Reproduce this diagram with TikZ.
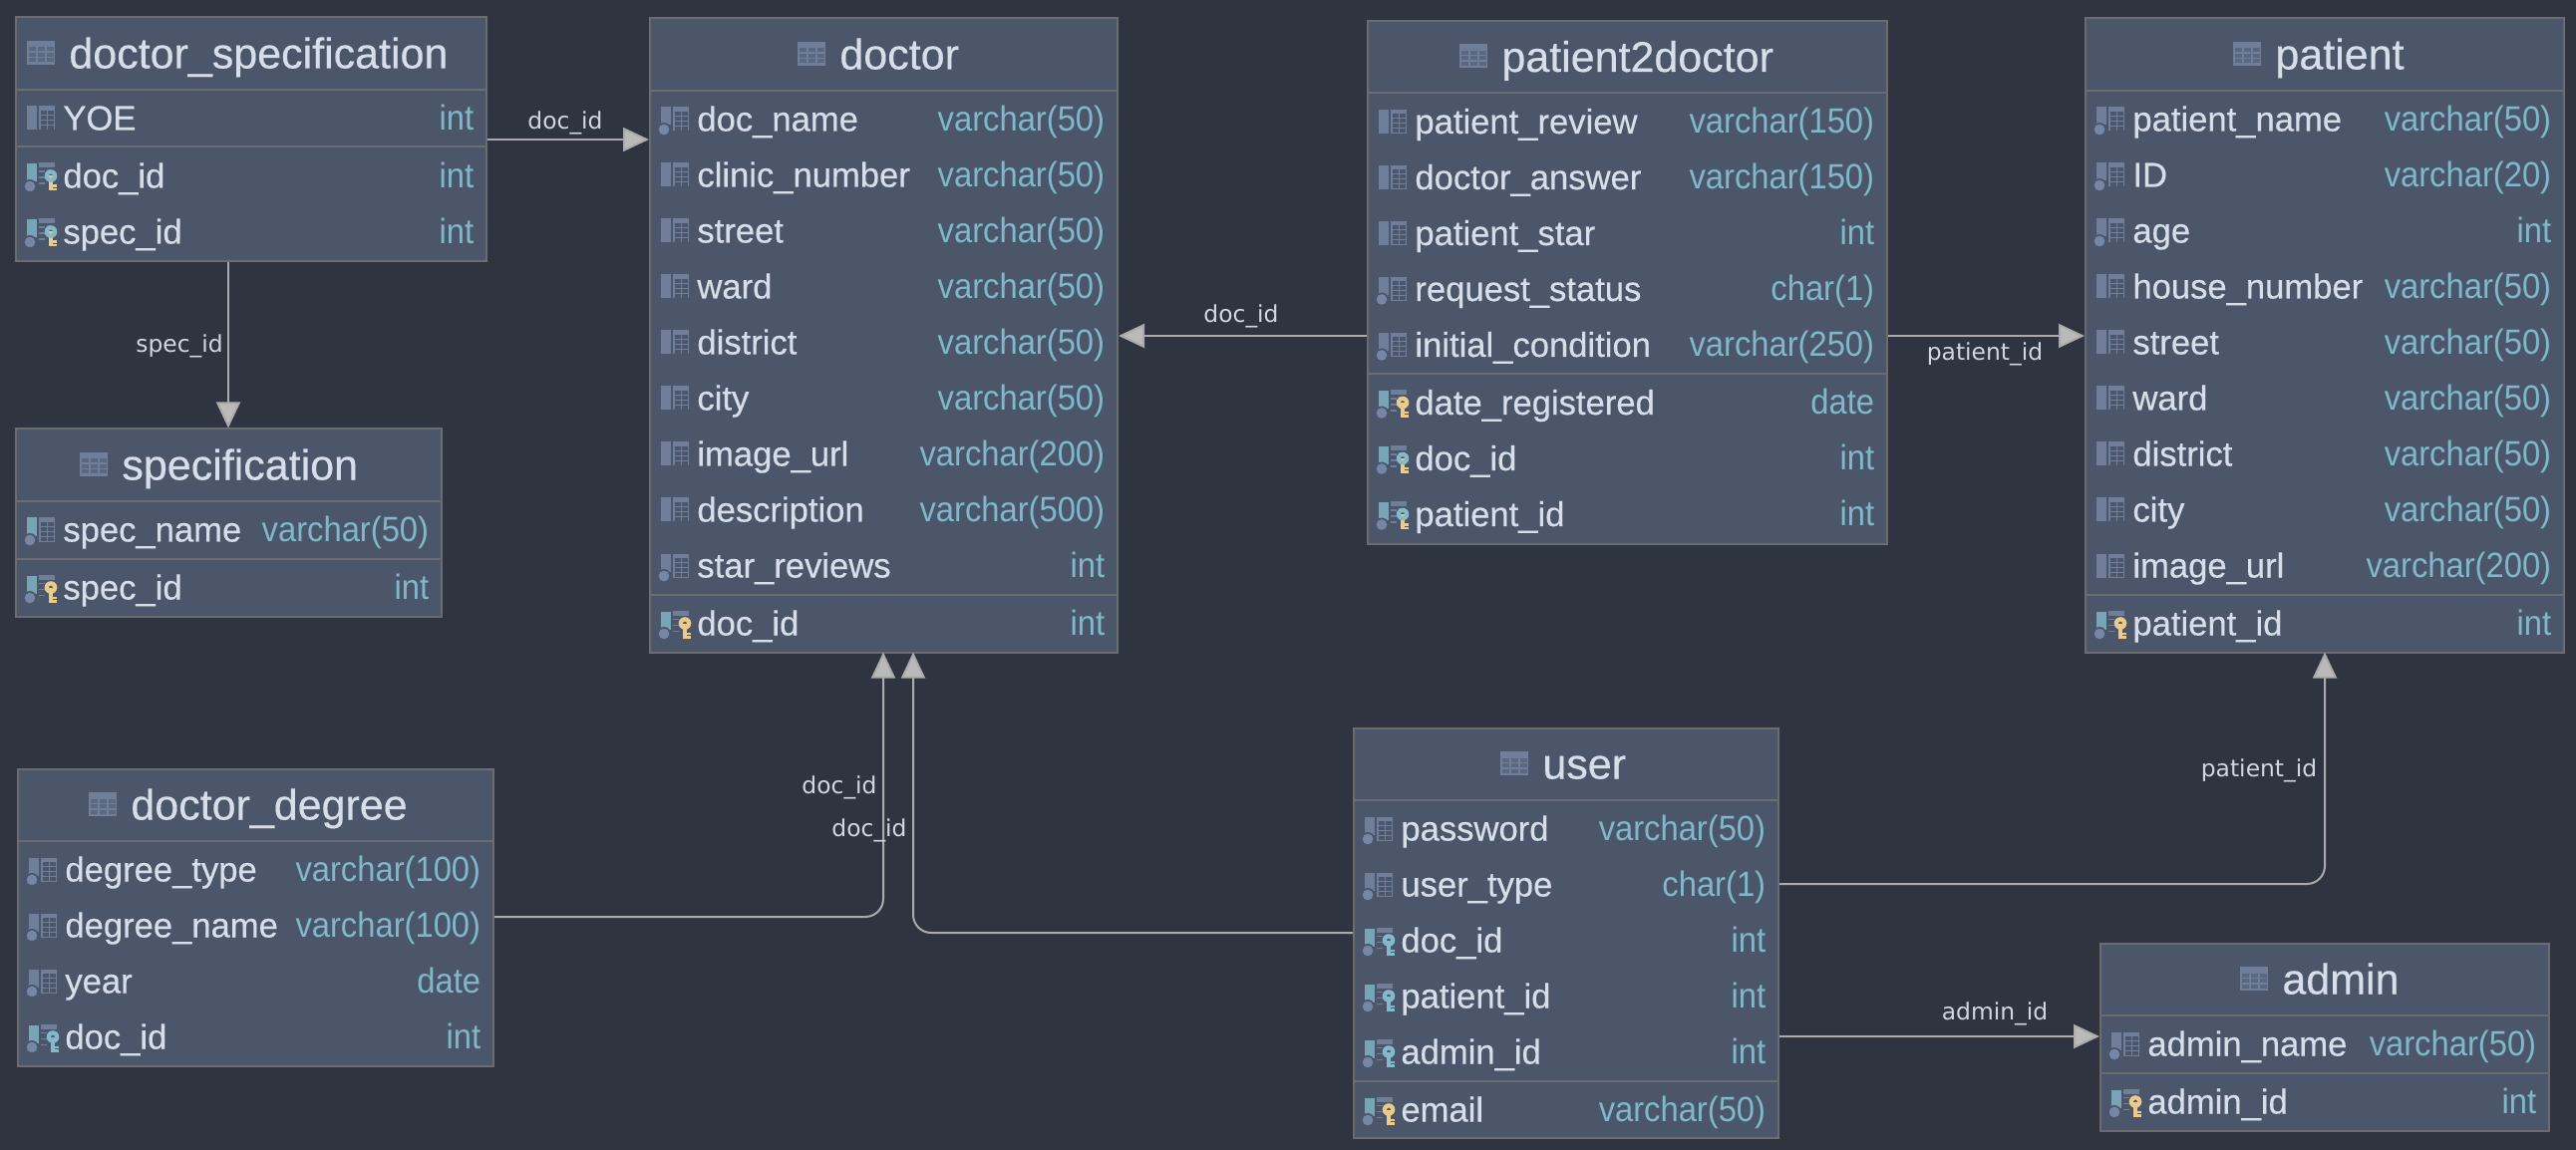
\documentclass[tikz,border=0pt]{standalone}
\usepackage{fontspec}
\setmainfont{Liberation Sans}[FakeBold=0.35]
\newfontfamily\typefont{Liberation Sans}[FakeStretch=0.93]
\newfontfamily\edgefont{DejaVu Sans}
\usetikzlibrary{arrows.meta}
\definecolor{pagedark}{HTML}{2E3440}
\definecolor{tablefill}{HTML}{4C566A}
\definecolor{tableline}{HTML}{6A6C70}
\definecolor{nametext}{HTML}{D8DEE9}
\definecolor{typetext}{HTML}{7FB8C8}
\definecolor{iconfill}{HTML}{6F7E99}
\definecolor{icondot}{HTML}{7687A6}
\definecolor{iconteal}{HTML}{78A5B5}
\definecolor{keygold}{HTML}{EBCB8B}
\definecolor{keyteal}{HTML}{82BACB}
\definecolor{linkgrey}{HTML}{ABABAB}
\definecolor{tipgrey}{HTML}{BABABA}
\definecolor{edgetext}{HTML}{D2D6DE}
\tikzset{
    tbl/.style={draw=tableline,fill=tablefill,line width=1pt,inner sep=0pt,anchor=north west},
    tbldiv/.style={draw=tableline,line width=1pt},
    titletext/.style={anchor=base west,inner sep=0pt,text=nametext,font=\fontsize{21.5}{24}\selectfont},
    nametxt/.style={anchor=base west,inner sep=0pt,text=nametext,font=\fontsize{17.3}{20}\selectfont},
    typetxt/.style={anchor=base east,inner sep=0pt,text=typetext,font=\typefont\fontsize{17.6}{20}\selectfont},
    fklink/.style={draw=linkgrey,line width=1pt,-{Triangle[length=13pt,width=12pt,fill=tipgrey]}},
    fklabel/.style={inner sep=0pt,text=edgetext,font=\edgefont\fontsize{11.7}{14}\selectfont}
}
% icon parts, origin at the left end of the row centre
\newcommand{\colgrid}{
    \fill[iconfill] (12,-12) rectangle (28,12);
    \foreach \cx/\cw in {13.5/6,20.5/6}{
        \foreach \cy in {-7.5,-2.5,2.5,7.5}{
            \fill[tablefill] (\cx,\cy) rectangle ++(\cw,3.6);
        }
    }
}
\newcommand{\keygrid}{
    \fill[iconfill] (12,-13) rectangle (28,-8);
    \foreach \cy in {-5,1,7}{
        \fill[iconfill] (12,\cy) rectangle (18,{\cy+1.6});
    }
    \fill[iconfill] (20,-6) rectangle (24,-4);
}
\newcommand{\nullbar}[1]{
    \fill[#1] (0,-12) rectangle (10,6);
    \fill[tablefill] (3,10.5) circle (7);
    \fill[icondot] (3,10.5) circle (5.3);
}
\newcommand{\dbkey}[2]{
    \fill[#2] (22.3,0) rectangle (26.3,15);
    \fill[#2] (26.3,9) rectangle (30,11.5);
    \fill[#2] (26.3,12.5) rectangle (30,15);
    \fill[#1,even odd rule] (24,0) circle (6.3) (24,0) circle (2);
}
\tikzset{
    pics/iconc/.style={code={\fill[iconfill] (0,-12) rectangle (10,12); \colgrid}},
    pics/iconn/.style={code={\nullbar{iconfill} \colgrid}},
    pics/icont/.style={code={\nullbar{iconteal} \colgrid}},
    pics/icony/.style={code={\nullbar{iconteal} \keygrid \dbkey{keygold}{keygold}}},
    pics/iconb/.style={code={\nullbar{iconteal} \keygrid \dbkey{keyteal}{keygold}}},
    pics/iconf/.style={code={\nullbar{iconteal} \keygrid \dbkey{keyteal}{keyteal}}},
    pics/tableicon/.style={code={
        \fill[iconfill] (0,-12) rectangle (28,12);
        \foreach \cx in {2,11,20}{
            \foreach \cy in {-5.5,0,5.5}{
                \fill[tablefill!55!iconfill] (\cx,\cy) rectangle ++(7,4);
            }
        }
    }}
}
% id, title, left, top, right, bottom, title x, rows above the key divider, rows
\newcommand{\dbtable}[9]{
    \node[tbl,minimum width={(#5-#3+1)*0.5pt},minimum height={(#6-#4)*0.5pt}] (#1) at (#3-1,#4-1.5) {};
    \draw[tbldiv] (#3,#4+72) -- (#5,#4+72);
    \pic at (#7-42,#4+35) {tableicon};
    \node[titletext] (#1-title) at (#7,#4+50.5) {#2};
    \foreach \colname/\coltype/\colicon [count=\i] in {#9}{
        \pgfmathsetmacro\rowbase{#4+72+40.5+56*(\i-1)+(\i>#8)*2}
        \ifnum\i=\numexpr#8+1\relax
            \draw[tbldiv] (#3,#4+73.5+56*#8) -- (#5,#4+73.5+56*#8);
        \fi
        \pic at (#3+11,\rowbase-12) {icon\colicon};
        \node[nametxt] (#1-\i-name) at (#3+47,\rowbase) {\colname};
        \node[typetxt] (#1-\i-type) at (#5-11.5,\rowbase) {\coltype};
    }
}
\begin{document}
\begin{tikzpicture}[x=0.5pt,y=-0.5pt]
\fill[pagedark] (0,0) rectangle (2584,1154);
\useasboundingbox (0,0) rectangle (2584,1154);
\dbtable{dspec}{doctor\_specification}{16}{18}{487}{263}{69}{1}{YOE/int/c, doc\_id/int/b, spec\_id/int/b}
\dbtable{spec}{specification}{16}{431}{442}{619}{122}{1}{spec\_name/varchar(50)/t, spec\_id/int/y}
\dbtable{degree}{doctor\_degree}{18}{772}{494}{1070}{131}{4}{degree\_type/varchar(100)/n, degree\_name/varchar(100)/n, year/date/n, doc\_id/int/f}
\dbtable{doctor}{doctor}{652}{19}{1120}{655}{842}{9}{doc\_name/varchar(50)/n, clinic\_number/varchar(50)/c, street/varchar(50)/c, ward/varchar(50)/c, district/varchar(50)/c, city/varchar(50)/c, image\_url/varchar(200)/c, description/varchar(500)/c, star\_reviews/int/n, doc\_id/int/y}
\dbtable{ptod}{patient2doctor}{1372}{21.5}{1892}{546}{1506}{5}{patient\_review/varchar(150)/c, doctor\_answer/varchar(150)/c, patient\_star/int/c, request\_status/char(1)/n, initial\_condition/varchar(250)/n, date\_registered/date/y, doc\_id/int/b, patient\_id/int/b}
\dbtable{patient}{patient}{2092}{19}{2571}{655}{2282}{9}{patient\_name/varchar(50)/n, ID/varchar(20)/n, age/int/n, house\_number/varchar(50)/c, street/varchar(50)/c, ward/varchar(50)/c, district/varchar(50)/c, city/varchar(50)/c, image\_url/varchar(200)/c, patient\_id/int/y}
\dbtable{user}{user}{1358}{731}{1783}{1142}{1547}{5}{password/varchar(50)/n, user\_type/char(1)/n, doc\_id/int/f, patient\_id/int/f, admin\_id/int/f, email/varchar(50)/y}
\dbtable{admin}{admin}{2107}{947}{2556}{1135}{2289}{1}{admin\_name/varchar(50)/n, admin\_id/int/y}
% foreign keys
\draw[fklink] (dspec.east |- 0,140) -- (doctor.west |- 0,140);
\node[fklabel] (lab-dspec-doc) at (567,123.5) {doc\_id};
\draw[fklink] (dspec.south -| 229,0) -- (spec.north -| 229,0);
\node[fklabel] (lab-dspec-spec) at (180,347.5) {spec\_id};
\draw[fklink] (ptod.west |- 0,337) -- (doctor.east |- 0,337);
\node[fklabel] (lab-ptod-doc) at (1245,317.5) {doc\_id};
\draw[fklink] (ptod.east |- 0,337) -- (patient.west |- 0,337);
\node[fklabel] (lab-ptod-patient) at (1991,355.5) {patient\_id};
\draw[fklink,shorten >=-0.5pt,rounded corners=9pt] (degree.east |- 0,920) -| (doctor.south -| 886,0);
\node[fklabel] (lab-degree-doc) at (842,790.5) {doc\_id};
\draw[fklink,shorten >=-0.5pt,rounded corners=9pt] (user.west |- 0,936) -| (doctor.south -| 916,0);
\node[fklabel] (lab-user-doc) at (872,833.5) {doc\_id};
\draw[fklink,shorten >=-0.5pt,rounded corners=9pt] (user.east |- 0,887) -| (patient.south -| 2332,0);
\node[fklabel] (lab-user-patient) at (2266,773.5) {patient\_id};
\draw[fklink] (user.east |- 0,1040) -- (admin.west |- 0,1040);
\node[fklabel] (lab-user-admin) at (2001,1017) {admin\_id};
\end{tikzpicture}
\end{document}
